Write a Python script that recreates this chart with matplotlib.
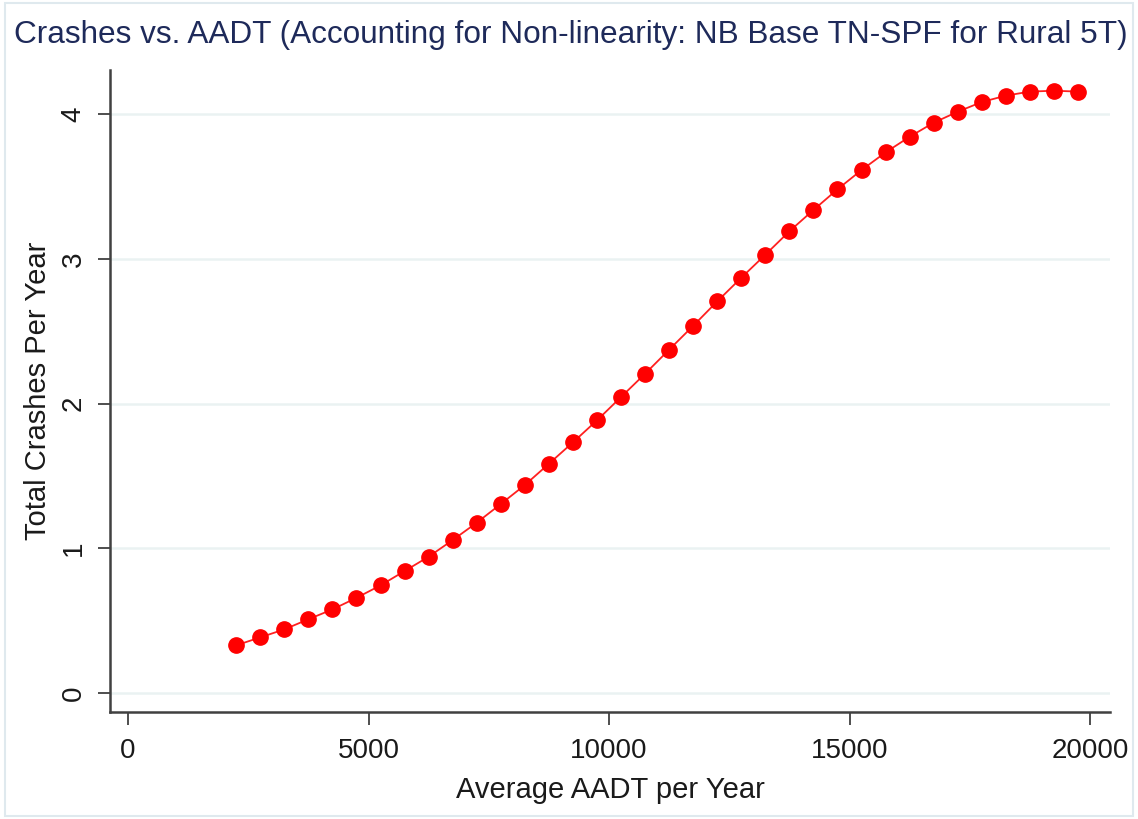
import matplotlib
matplotlib.use("Agg")
import matplotlib.pyplot as plt
from matplotlib.patches import Rectangle

# predicted crashes from the NB base TN-SPF, Rural 5T segments
aadt = [2250, 2750, 3250, 3750, 4250, 4750, 5250, 5750, 6250, 6750,
        7250, 7750, 8250, 8750, 9250, 9750, 10250, 10750, 11250, 11750,
        12250, 12750, 13250, 13750, 14250, 14750, 15250, 15750, 16250, 16750,
        17250, 17750, 18250, 18750, 19250, 19750]
crashes = [0.33, 0.385, 0.44, 0.51, 0.578, 0.658, 0.744, 0.843, 0.942, 1.057,
           1.177, 1.306, 1.437, 1.584, 1.732, 1.884, 2.045, 2.206, 2.372, 2.537,
           2.706, 2.869, 3.028, 3.19, 3.337, 3.48, 3.613, 3.735, 3.843, 3.94,
           4.016, 4.083, 4.127, 4.155, 4.161, 4.155]
x_ticks = [0, 5000, 10000, 15000, 20000]
y_ticks = [0, 1, 2, 3, 4]

plt.rcParams['font.family'] = ['Liberation Sans', 'DejaVu Sans']

fig = plt.figure(figsize=(11.38, 8.19), dpi=100)
ax = fig.add_axes([0.0967, 0.1306, 0.8787, 0.7839])

# light outer frame like the stata graph region
fig.patches.append(Rectangle((0.004, 0.004), 0.992, 0.992, transform=fig.transFigure,
                             fill=False, edgecolor='#dfe9ee', linewidth=1.5))

ax.plot(aadt, crashes, color='#ff2020', linewidth=1.3, marker='o',
        markersize=11, markerfacecolor='red', markeredgecolor='red', zorder=3)

ax.set_xlim(-374, 20416)
ax.set_ylim(-0.131, 4.304)
ax.set_xticks(x_ticks)
ax.set_yticks(y_ticks)
ax.set_yticklabels([str(v) for v in y_ticks], rotation=90, va='center')

ax.grid(axis='y', color='#eaf2f2', linewidth=1.8)
ax.set_axisbelow(True)

for side in ['top', 'right']:
    ax.spines[side].set_visible(False)
for side in ['left', 'bottom']:
    ax.spines[side].set_color('#404040')
    ax.spines[side].set_linewidth(1.8)

ax.tick_params(axis='both', direction='out', length=9, width=1.3,
               color='#404040', labelsize=20, labelcolor='#1a1a1a', pad=10)
ax.tick_params(axis='y', pad=8)

ax.set_xlabel('Average AADT per Year', fontsize=21, color='#1a1a1a', labelpad=8)
ax.set_ylabel('Total Crashes Per Year', fontsize=21, color='#1a1a1a', labelpad=6)
fig.suptitle('Crashes vs. AADT (Accounting for Non-linearity: NB Base TN-SPF for Rural 5T)',
             x=0.502, y=0.976, fontsize=22.7, color='#1e2a5a')

fig.savefig('out.png', dpi=100)
